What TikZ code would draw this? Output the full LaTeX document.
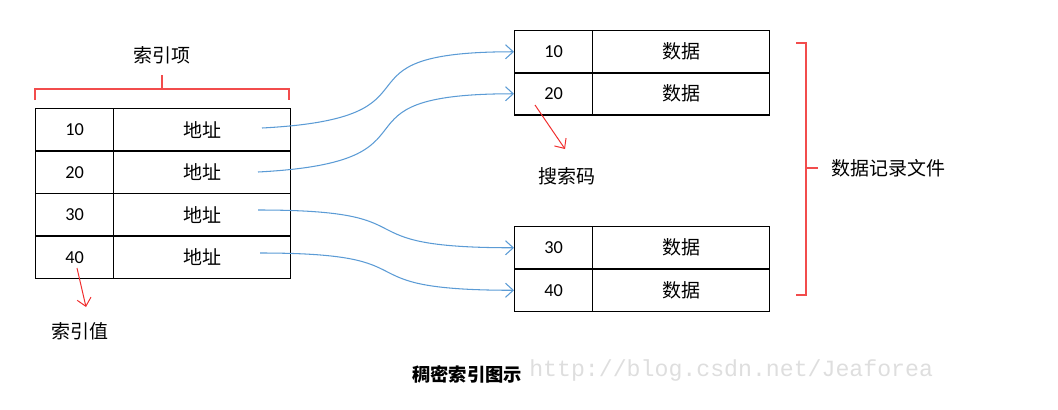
\documentclass[tikz,border=0pt]{standalone}
\usepackage{fontspec}
\setmainfont{Carlito}
\newfontfamily\cjk{Noto Sans CJK SC}
\newfontfamily\wmfont{Liberation Mono}
\usetikzlibrary{arrows.meta}
\definecolor{linkblue}{RGB}{91,155,213}
\definecolor{markred}{RGB}{240,45,45}
\tikzset{
  keycell/.style={draw, line width=0.8pt, minimum width=1.95cm, minimum height=1.06cm,
    inner sep=0pt, anchor=north west, font=\fontsize{13}{15}\selectfont},
  valcell/.style={keycell, minimum width=4.425cm, font=\cjk\fontsize{13.5}{16}\selectfont},
  lbl/.style={font=\cjk\fontsize{13.5}{16}\selectfont, inner sep=1pt},
  link/.style={linkblue, line width=0.75pt, -{Straight Barb[length=5.5pt,width=10pt]}},
  pointer/.style={markred, line width=0.7pt, -{Straight Barb[length=5.5pt,width=10pt]}},
  brace/.style={markred!85, line width=1pt}
}
\begin{document}
\begin{tikzpicture}[x=0.025cm, y=-0.025cm]
  \useasboundingbox (0,0) rectangle (1058,409);
  % index file
  \node[keycell] (idx1) at (35,108) {10};
  \node[valcell] (addr1) at (113,108) {地址};
  \node[keycell] (idx2) at (35,150.5) {20};
  \node[valcell] (addr2) at (113,150.5) {地址};
  \node[keycell] (idx3) at (35,193) {30};
  \node[valcell] (addr3) at (113,193) {地址};
  \node[keycell] (idx4) at (35,235.5) {40};
  \node[valcell] (addr4) at (113,235.5) {地址};
  % data records
  \node[keycell] (rec1) at (514,30) {10};
  \node[valcell] (dat1) at (592,30) {数据};
  \node[keycell] (rec2) at (514,72) {20};
  \node[valcell] (dat2) at (592,72) {数据};
  \node[keycell] (rec3) at (514,226) {30};
  \node[valcell] (dat3) at (592,226) {数据};
  \node[keycell] (rec4) at (514,268.5) {40};
  \node[valcell] (dat4) at (592,268.5) {数据};
  % labels
  \node[lbl] (item) at (162,55) {索引项};
  \node[lbl] (keyval) at (80,331) {索引值};
  \node[lbl] (search) at (567,176) {搜索码};
  \node[lbl, anchor=west] (file) at (830,168) {数据记录文件};
  \node[font=\cjk\bfseries\fontsize{13}{15}\selectfont] (title) at (467,374) {稠密索引图示};
  \node[font=\wmfont\fontsize{16.5}{18}\selectfont, text=black!13, anchor=west, inner sep=0pt] (wm) at (529,370) {http://blog.csdn.net/Jeaforea};
  % brackets
  \draw[brace] (35,100) -- (35,89) -- (289,89) -- (289,100);
  \draw[brace] (162,89) -- (162,75);
  \draw[brace] (796,43) -- (806,43) -- (806,295) -- (796,295);
  \draw[brace] (806,168) -- (818,168);
  % pointers
  \coordinate (s1) at (262,128);
  \coordinate (s2) at (258,172);
  \coordinate (s3) at (258,210);
  \coordinate (s4) at (260,253);
  \draw[link] (s1) to[out=3,in=180,looseness=1.9] (rec1.west);
  \draw[link] (s2) to[out=3,in=180,looseness=1.9] (rec2.west);
  \draw[link] (s3) to[out=0,in=180,looseness=1.8] (rec3.west);
  \draw[link] (s4) to[out=0,in=180,looseness=1.8] (rec4.west);
  \coordinate (p1) at (77,268);
  \coordinate (p2) at (535,105);
  \draw[pointer] (p1) -- (86,307) coordinate (e1);
  \draw[pointer] (p2) -- (565,149) coordinate (e2);
\end{tikzpicture}
\end{document}
